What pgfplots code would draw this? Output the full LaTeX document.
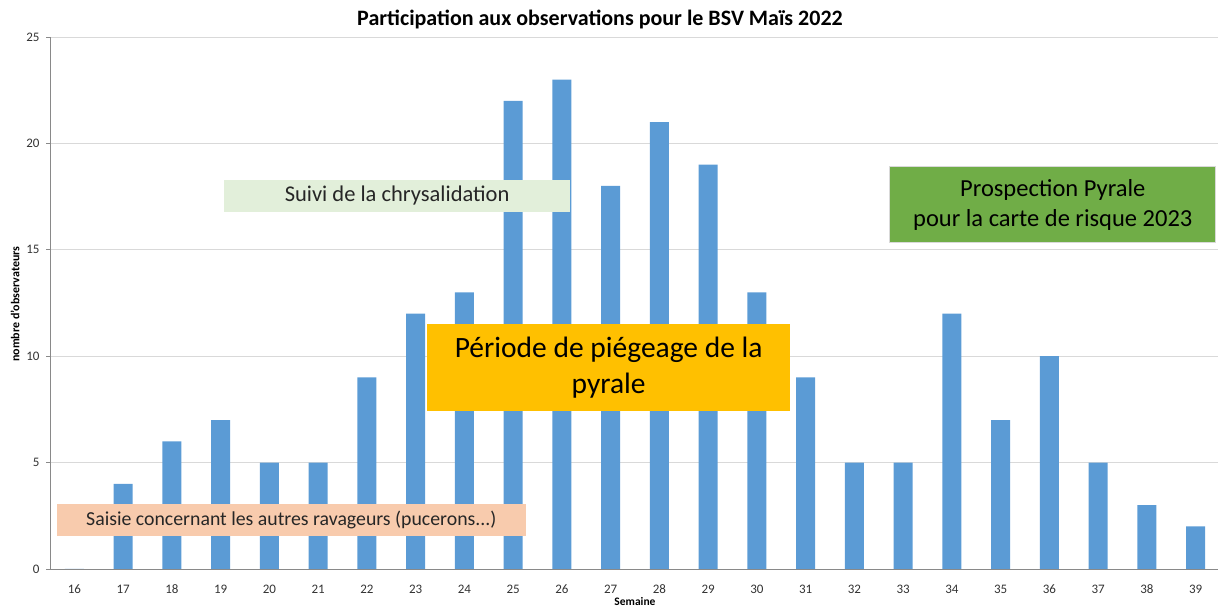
\documentclass[border=0pt]{standalone}
\usepackage{pgfplots}
\pgfplotsset{compat=1.18}
\usepackage{fontspec}
\setmainfont{Carlito}
\definecolor{barblue}{HTML}{5B9BD5}
\definecolor{lgreen}{HTML}{E2EFDA}
\definecolor{dgreen}{HTML}{70AD47}
\definecolor{gold}{HTML}{FFC000}
\definecolor{peach}{HTML}{F8CBAD}
\definecolor{gridgray}{HTML}{D9D9D9}
\definecolor{axgray}{HTML}{898989}
\begin{document}
\begin{tikzpicture}[x=1pt,y=1pt]
\path[use as bounding box] (0,0) rectangle (1218,607);
\begin{axis}[
  at={(50pt,38pt)}, anchor=origin,
  scale only axis, width=1170pt, height=532pt,
  xmin=15.5, xmax=39.5, ymin=0, ymax=25,
  ybar, bar width=19pt,
  xtick={16,...,39},
  ytick={0,5,...,25},
  axis x line*=bottom, axis y line*=left,
  axis line style={axgray, line width=0.8pt},
  x axis line style={-},
  y axis line style={-},
  ymajorgrids, grid style={gridgray, line width=0.8pt},
  major tick length=4pt,
  xtick style={draw=none},
  ytick style={axgray, line width=0.8pt},
  tick align=outside,
  ticklabel style={font=\fontsize{13}{15}\selectfont, text=black!80},
  xticklabel style={anchor=center, yshift=-16pt, text height=9pt, text depth=0pt},
  yticklabel style={xshift=-3pt},
  /pgf/number format/assume math mode=true,
  clip=false,
]
\addplot[fill=barblue, draw=none] coordinates {
(16,0) (17,4) (18,6) (19,7) (20,5) (21,5) (22,9) (23,12) (24,13) (25,22) (26,23) (27,18)
(28,21) (29,19) (30,13) (31,9) (32,5) (33,5) (34,12) (35,7) (36,10) (37,5) (38,3) (39,2)};
\node[fill=lgreen, minimum width=346pt, minimum height=32pt, inner sep=0pt,
  font=\fontsize{22.5}{26}\selectfont, text=black!85] at (axis cs:22.62,17.55) {Suivi de la chrysalidation};
\node[fill=gold, minimum width=363pt, minimum height=87pt, inner sep=0pt, align=center,
  font=\fontsize{29.5}{36}\selectfont] at (axis cs:26.96,9.47) {Période de piégeage de la\\pyrale};
\node[fill=dgreen, draw=gridgray, line width=1pt, minimum width=326pt, minimum height=76pt, inner sep=0pt, align=center,
  font=\fontsize{24.5}{30}\selectfont] at (axis cs:36.07,17.11) {Prospection Pyrale\\pour la carte de risque 2023};
\node[fill=peach, minimum width=469pt, minimum height=32pt, inner sep=0pt,
  font=\fontsize{19.8}{24}\selectfont, text=black!85] at (axis cs:20.45,2.30) {Saisie concernant les autres ravageurs (pucerons...)};
\end{axis}
\node[font=\bfseries\fontsize{22}{26}\selectfont] at (600,587) {Participation aux observations pour le BSV Maïs 2022};
\node[font=\bfseries\fontsize{12}{14}\selectfont, rotate=90] at (15,303) {nombre d'observateurs};
\node[font=\bfseries\fontsize{11.5}{13}\selectfont, anchor=south, inner sep=0pt] at (635,1) {Semaine};
\end{tikzpicture}
\end{document}
